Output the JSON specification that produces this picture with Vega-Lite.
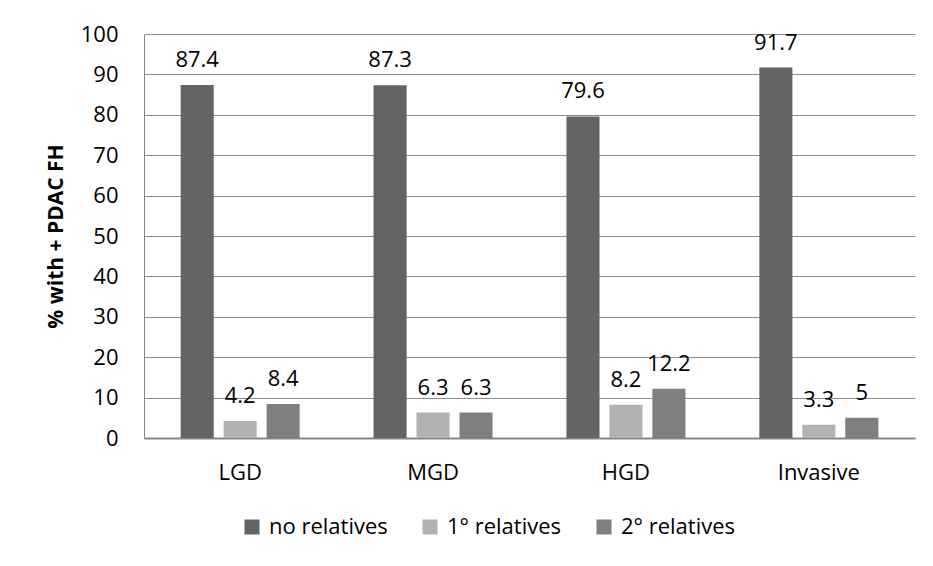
{
  "$schema": "https://vega.github.io/schema/vega-lite/v6.json",
  "width": 771,
  "height": 404,
  "autosize": {"type": "none"},
  "padding": {"left": 144, "top": 34, "right": 18, "bottom": 128},
  "background": "white",
  "config": {
    "view": {"stroke": null},
    "font": "Open Sans",
    "axis": {"labelFont": "Open Sans", "titleFont": "Open Sans", "labelColor": "#000000", "titleColor": "#000000"}
  },
  "data": {
    "values": [
      {"grade": "LGD", "group": "no relatives", "pct": 87.4},
      {"grade": "LGD", "group": "1° relatives", "pct": 4.2},
      {"grade": "LGD", "group": "2° relatives", "pct": 8.4},
      {"grade": "MGD", "group": "no relatives", "pct": 87.3},
      {"grade": "MGD", "group": "1° relatives", "pct": 6.3},
      {"grade": "MGD", "group": "2° relatives", "pct": 6.3},
      {"grade": "HGD", "group": "no relatives", "pct": 79.6},
      {"grade": "HGD", "group": "1° relatives", "pct": 8.2},
      {"grade": "HGD", "group": "2° relatives", "pct": 12.2},
      {"grade": "Invasive", "group": "no relatives", "pct": 91.7},
      {"grade": "Invasive", "group": "1° relatives", "pct": 3.3},
      {"grade": "Invasive", "group": "2° relatives", "pct": 5}
    ]
  },
  "encoding": {
    "x": {
      "field": "grade",
      "type": "nominal",
      "sort": ["LGD", "MGD", "HGD", "Invasive"],
      "scale": {"paddingInner": 0.383, "paddingOuter": 0.19},
      "axis": {
        "title": null,
        "labelAngle": 0,
        "labelFontSize": 22,
        "labelPadding": 24,
        "labelBaseline": "top",
        "ticks": false,
        "domainColor": "#868686",
        "domainWidth": 2,
        "grid": false
      }
    },
    "xOffset": {
      "field": "group",
      "type": "nominal",
      "sort": ["no relatives", "1° relatives", "2° relatives"],
      "scale": {"paddingInner": 0.23, "paddingOuter": 0}
    },
    "y": {
      "field": "pct",
      "type": "quantitative",
      "scale": {"domain": [0, 100], "nice": false},
      "axis": {
        "title": "% with + PDAC FH",
        "titleFontSize": 21,
        "titleFontWeight": "bold",
        "titlePadding": 14,
        "values": [0, 10, 20, 30, 40, 50, 60, 70, 80, 90, 100],
        "labelFontSize": 22,
        "labelPadding": 26,
        "ticks": false,
        "domainColor": "#868686",
        "domainWidth": 1,
        "grid": true,
        "gridColor": "#8c8c8c",
        "gridWidth": 1
      }
    }
  },
  "layer": [
    {
      "mark": {"type": "bar"},
      "encoding": {
        "color": {
          "field": "group",
          "type": "nominal",
          "scale": {
            "domain": ["no relatives", "1° relatives", "2° relatives"],
            "range": ["#646464", "#b2b2b2", "#7f7f7f"]
          },
          "legend": {
            "title": null,
            "orient": "none",
            "direction": "horizontal",
            "legendX": 97,
            "legendY": 482,
            "symbolType": "square",
            "symbolSize": 225,
            "symbolStrokeWidth": 0,
            "labelFontSize": 22,
            "labelFont": "Open Sans",
            "labelColor": "#000000",
            "labelOffset": 6,
            "columnPadding": 31
          }
        }
      }
    },
    {
      "mark": {"type": "text", "baseline": "alphabetic", "dy": -18, "fontSize": 22, "color": "#000000", "font": "Open Sans"},
      "encoding": {
        "text": {"field": "pct", "type": "quantitative"}
      }
    }
  ]
}
